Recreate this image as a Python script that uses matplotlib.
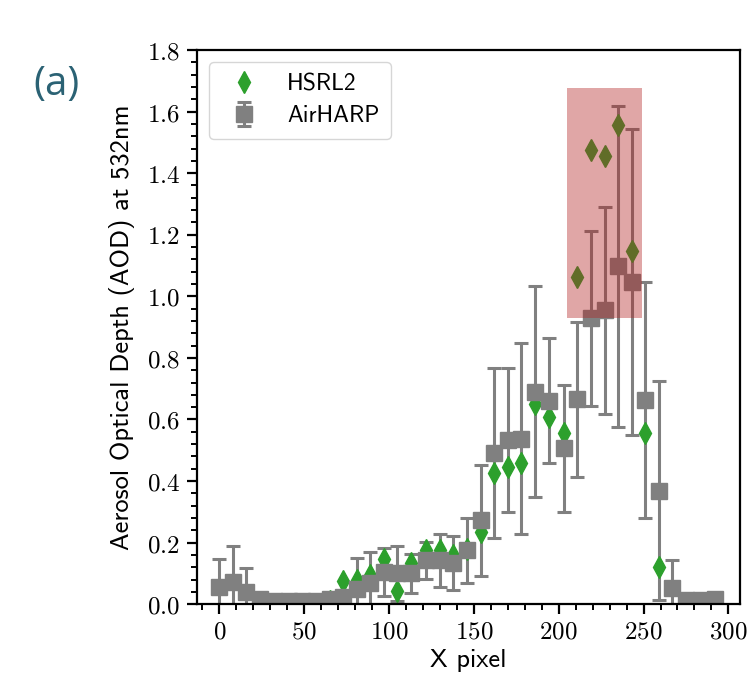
import matplotlib
matplotlib.use('Agg')
import matplotlib.pyplot as plt
from matplotlib.patches import Rectangle
from matplotlib.ticker import MultipleLocator, FuncFormatter

plt.rcParams['mathtext.fontset'] = 'cm'

# AirHARP: posiciones x, AOD y barras de error
harp_x = [0, 8, 16, 24, 32, 41, 49, 57, 65, 73, 81, 89, 97, 105, 113, 122, 130,
          138, 146, 154, 162, 170, 178, 186, 194, 203, 211, 219, 227, 235, 243,
          251, 259, 267, 275, 284, 292]
harp_aod = [0.055, 0.073, 0.038, 0.016, 0.011, 0.010, 0.010, 0.011, 0.016, 0.024,
            0.050, 0.070, 0.105, 0.100, 0.100, 0.143, 0.143, 0.135, 0.175, 0.273,
            0.492, 0.533, 0.538, 0.690, 0.660, 0.506, 0.665, 0.928, 0.955, 1.098,
            1.047, 0.663, 0.368, 0.051, 0.013, 0.015, 0.017]
harp_err = [0.092, 0.117, 0.081, 0.010, 0.005, 0.004, 0.004, 0.005, 0.008, 0.012,
            0.100, 0.100, 0.079, 0.090, 0.064, 0.060, 0.086, 0.088, 0.106, 0.180,
            0.276, 0.235, 0.310, 0.342, 0.203, 0.205, 0.252, 0.283, 0.336, 0.521,
            0.498, 0.383, 0.356, 0.092, 0.004, 0.004, 0.004]

# HSRL2
hsrl_x = [65, 73, 81, 89, 97, 105, 113, 122, 130, 138, 146, 154, 162, 170, 178,
          186, 194, 203, 211, 219, 227, 235, 243, 251, 259]
hsrl_aod = [0.010, 0.076, 0.080, 0.095, 0.148, 0.043, 0.135, 0.175, 0.175, 0.160,
            0.180, 0.235, 0.427, 0.445, 0.457, 0.650, 0.609, 0.555, 1.063, 1.475,
            1.455, 1.558, 1.148, 0.555, 0.121]

# zona resaltada
box_x = (205, 249)
box_y = (0.93, 1.675)

sans = 'cmss10'

fig = plt.figure(figsize=(7.47, 6.85), dpi=100)
ax = fig.add_axes([0.264, 0.118, 0.727, 0.809])

ax.plot(hsrl_x, hsrl_aod, 'd', color='#2ca02c', markersize=11, zorder=2.05,
        label='HSRL2')
ax.errorbar(harp_x, harp_aod, yerr=harp_err, fmt='s', color='grey',
            markersize=11, elinewidth=2.2, capsize=5, capthick=2.2,
            label='AirHARP')

ax.add_patch(Rectangle((box_x[0], box_y[0]), box_x[1] - box_x[0],
                       box_y[1] - box_y[0], color='firebrick', alpha=0.4,
                       lw=0, zorder=3))

ax.set_xlim(-13, 307)
ax.set_ylim(0, 1.8)
ax.xaxis.set_major_locator(MultipleLocator(50))
ax.xaxis.set_minor_locator(MultipleLocator(10))
ax.yaxis.set_major_locator(MultipleLocator(0.2))
ax.yaxis.set_minor_locator(MultipleLocator(0.04))
ax.xaxis.set_major_formatter(FuncFormatter(lambda v, p: f'${v:.0f}$'))
ax.yaxis.set_major_formatter(FuncFormatter(lambda v, p: f'${v:.1f}$'))
ax.tick_params(which='major', direction='out', length=7.5, width=1.6, labelsize=18)
ax.tick_params(axis='y', which='major', pad=5)
ax.tick_params(which='minor', direction='out', length=4.5, width=1.4)
for s in ax.spines.values():
    s.set_linewidth(1.6)

ax.set_xlabel('X pixel', fontsize=19, family=sans, labelpad=4)
ax.set_ylabel('Aerosol Optical Depth (AOD) at 532nm', fontsize=19, family=sans,
              labelpad=8)

ax.legend(loc='upper left', prop={'family': sans, 'size': 17},
          handletextpad=0.8, borderpad=0.5, labelspacing=0.4)

fig.text(0.045, 0.877, '(a)', fontsize=29, color='#2b6274', family='Open Sans',
         va='center')

fig.savefig('out.png', dpi=100)
